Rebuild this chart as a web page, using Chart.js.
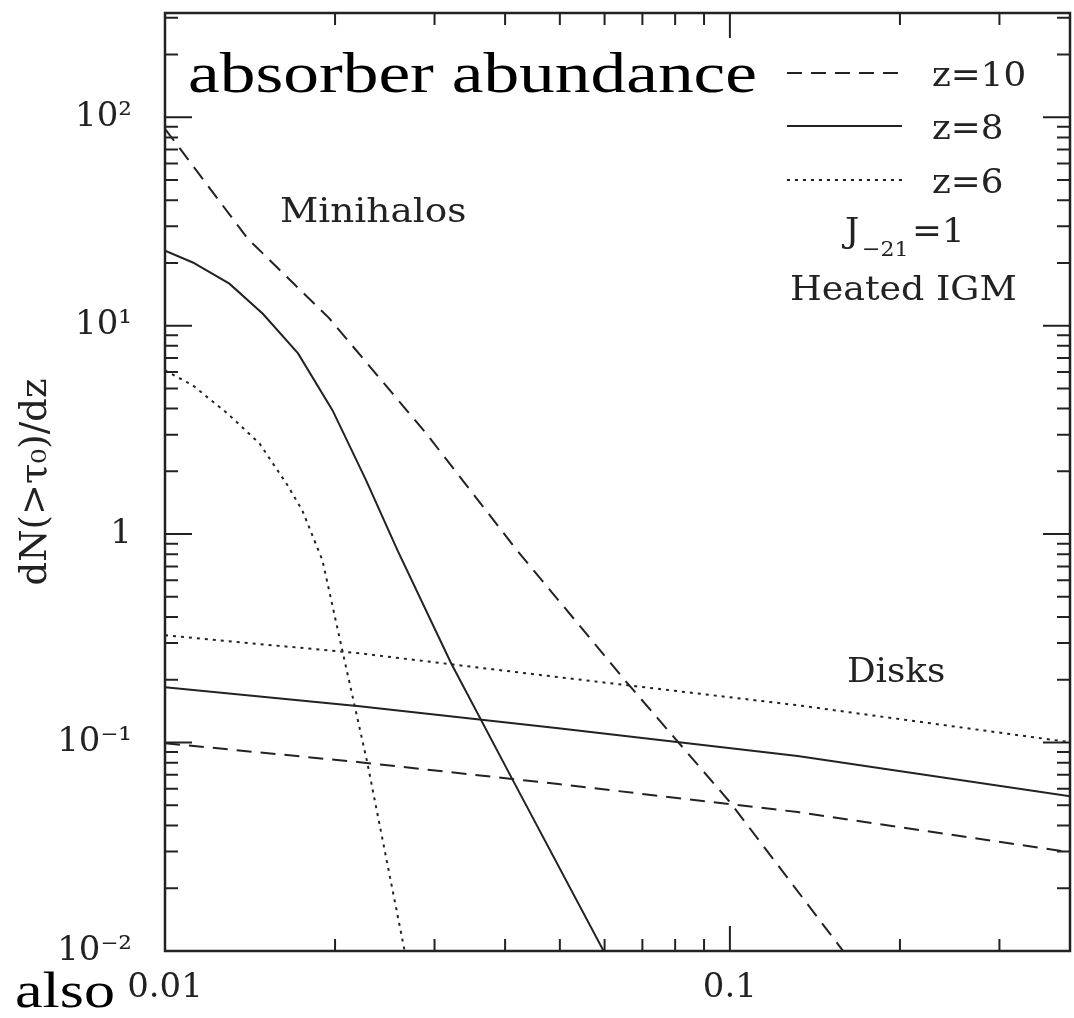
<!DOCTYPE html>
<html>
<head>
<meta charset="utf-8">
<script src="https://cdn.jsdelivr.net/npm/chart.js@4/dist/chart.umd.min.js"></script>
<style>
  html, body { margin: 0; padding: 0; background: #fff; }
  canvas { display: block; }
</style>
</head>
<body>
<canvas id="abundance" width="1074" height="1018"></canvas>
<script>
// Minihalo absorbers: tau_0 thresholds and dN(>tau_0)/dz
const miniTauZ10 = [0.01, 0.0140, 0.0195, 0.0290, 0.0420, 0.0656, 0.1, 0.16];
const miniNZ10   = [88, 26.2, 10.9, 3.04, 0.835, 0.195, 0.0518, 0.0097];
const miniTauZ8  = [0.01, 0.0112, 0.0130, 0.0149, 0.0172, 0.0198, 0.0227, 0.0258, 0.0321, 0.0411, 0.060];
const miniNZ8    = [22.9, 20.1, 15.9, 11.4, 7.36, 3.92, 1.81, 0.836, 0.240, 0.0675, 0.0098];
const miniTauZ6  = [0.01, 0.0112, 0.0129, 0.0147, 0.0164, 0.0175, 0.0190, 0.0206, 0.0228, 0.0266];
const miniNZ6    = [6.10, 5.17, 3.79, 2.72, 1.75, 1.30, 0.748, 0.277, 0.0805, 0.0098];

// Disk absorbers
const diskTau    = [0.01, 0.0221, 0.0497, 0.1318, 0.4];
const diskNZ10   = [0.0993, 0.0805, 0.0632, 0.0464, 0.0298];
const diskNZ8    = [0.1843, 0.1494, 0.1172, 0.0861, 0.0553];
const diskNZ6    = [0.327, 0.268, 0.206, 0.151, 0.1004];

const redshiftLabels = ['z=10', 'z=8', 'z=6'];

// axis ticks
const xMajorTicks = [0.01, 0.1];
const xTickLabels = ['0.01', '0.1'];
const xMinorTicks = [0.02, 0.03, 0.04, 0.05, 0.06, 0.07, 0.08, 0.09, 0.2, 0.3];
const yMajorTicks = [0.01, 0.1, 1, 10, 100];
const yTickLabels = ['10\u207B\u00B2', '10\u207B\u00B9', '1', '10\u00B9', '10\u00B2'];
const yMinorTicks = [0.02, 0.03, 0.04, 0.05, 0.06, 0.07, 0.08, 0.09,
                     0.2, 0.3, 0.4, 0.5, 0.6, 0.7, 0.8, 0.9,
                     2, 3, 4, 5, 6, 7, 8, 9,
                     20, 30, 40, 50, 60, 70, 80, 90,
                     200, 300];

const INK = '#222';
const SERIF = '"DejaVu Serif", serif';
const DASHED = [15, 9];
const DOTTED = [3, 5];

function points(xs, ys) {
  return xs.map((x, i) => ({ x: x, y: ys[i] }));
}

function curve(label, xs, ys, dash) {
  return {
    label: label,
    data: points(xs, ys),
    showLine: true,
    borderColor: INK,
    borderWidth: 2,
    borderDash: dash,
    pointRadius: 0,
    tension: 0,
    fill: false
  };
}

const datasets = [
  curve(redshiftLabels[0], miniTauZ10, miniNZ10, DASHED),
  curve(redshiftLabels[1], miniTauZ8, miniNZ8, []),
  curve(redshiftLabels[2], miniTauZ6, miniNZ6, DOTTED),
  curve(redshiftLabels[0], diskTau, diskNZ10, DASHED),
  curve(redshiftLabels[1], diskTau, diskNZ8, []),
  curve(redshiftLabels[2], diskTau, diskNZ6, DOTTED)
];

function tickList(major, minor) {
  return major.concat(minor).sort((a, b) => a - b).map(v => ({ value: v }));
}

// frame and inward tick marks on all four sides
const frameTicks = {
  id: 'frameTicks',
  afterDatasetsDraw(chart) {
    const { ctx, chartArea: a, scales: { x, y } } = chart;
    ctx.save();
    ctx.strokeStyle = INK;
    ctx.lineWidth = 2;
    ctx.beginPath();
    const xTick = (v, len) => {
      const px = x.getPixelForValue(v);
      ctx.moveTo(px, a.bottom); ctx.lineTo(px, a.bottom - len);
      ctx.moveTo(px, a.top);    ctx.lineTo(px, a.top + len);
    };
    const yTick = (v, len) => {
      const py = y.getPixelForValue(v);
      ctx.moveTo(a.left, py);  ctx.lineTo(a.left + len, py);
      ctx.moveTo(a.right, py); ctx.lineTo(a.right - len, py);
    };
    xMinorTicks.forEach(v => xTick(v, 12));
    xMajorTicks.forEach(v => xTick(v, 25));
    yMinorTicks.forEach(v => yTick(v, 13));
    yMajorTicks.forEach(v => yTick(v, 27));
    ctx.stroke();
    ctx.lineWidth = 2.5;
    ctx.strokeRect(a.left, a.top, a.right - a.left, a.bottom - a.top);
    ctx.restore();
  }
};

function drawText(ctx, text, x, baseline, font, sx) {
  ctx.save();
  ctx.font = font;
  ctx.translate(x, baseline);
  ctx.scale(sx || 1, 1);
  ctx.fillText(text, 0, 0);
  ctx.restore();
}

function drawFitted(ctx, text, x, baseline, font, width) {
  ctx.save();
  ctx.font = font;
  const sx = width / ctx.measureText(text).width;
  ctx.restore();
  drawText(ctx, text, x, baseline, font, sx);
}

// legend samples, annotations and the overlaid captions
const annotations = {
  id: 'annotations',
  afterDraw(chart) {
    const ctx = chart.ctx;
    const font = '34px ' + SERIF;
    ctx.save();
    ctx.fillStyle = INK;
    ctx.textBaseline = 'alphabetic';

    const rows = [73, 126, 180];
    rows.forEach((yy, i) => {
      const ds = chart.data.datasets[i];
      ctx.save();
      ctx.strokeStyle = ds.borderColor;
      ctx.lineWidth = ds.borderWidth;
      ctx.setLineDash(ds.borderDash);
      ctx.beginPath();
      ctx.moveTo(787, yy);
      ctx.lineTo(902, yy);
      ctx.stroke();
      ctx.restore();
      drawText(ctx, ds.label, 932, yy + 13, font, 1.05);
    });

    drawText(ctx, 'J', 845, 242, font, 1.05);
    drawText(ctx, '\u221221', 862, 256, '21px ' + SERIF, 1.05);
    drawText(ctx, '=1', 912, 242, font, 1.05);
    drawText(ctx, 'Heated IGM', 790, 300, font, 1.07);
    drawText(ctx, 'Minihalos', 280, 222, font, 1.1);
    drawText(ctx, 'Disks', 847, 682, font, 1.05);

    ctx.fillStyle = '#000';
    drawFitted(ctx, 'absorber abundance', 188, 92, '56px "Liberation Serif", serif', 569);
    drawFitted(ctx, 'also', 15, 1007, '50px "Liberation Serif", serif', 100);
    ctx.restore();
  }
};

Chart.defaults.color = INK;
Chart.defaults.font.family = SERIF;

new Chart(document.getElementById('abundance'), {
  type: 'scatter',
  data: { datasets: datasets },
  options: {
    responsive: false,
    animation: false,
    layout: { padding: { top: 13, right: 4, left: 0, bottom: 0 } },
    plugins: {
      legend: { display: false },
      tooltip: { enabled: false }
    },
    scales: {
      x: {
        type: 'logarithmic',
        position: 'bottom',
        min: 0.01,
        max: 0.4,
        afterBuildTicks: (scale) => { scale.ticks = tickList(xMajorTicks, xMinorTicks); },
        afterFit: (scale) => {
          scale.height = 67;
          scale.paddingLeft = 0;
          scale.paddingRight = 0;
        },
        grid: { display: false },
        border: { display: false },
        ticks: {
          autoSkip: false,
          maxRotation: 0,
          padding: 9,
          font: { size: 34 },
          callback: (value) => {
            const i = xMajorTicks.indexOf(value);
            return i >= 0 ? xTickLabels[i] : '';
          }
        }
      },
      y: {
        type: 'logarithmic',
        position: 'left',
        min: 0.01,
        max: 316.2,
        afterBuildTicks: (scale) => { scale.ticks = tickList(yMajorTicks, yMinorTicks); },
        afterFit: (scale) => {
          scale.width = 165;
          scale.paddingTop = 0;
          scale.paddingBottom = 0;
        },
        grid: { display: false },
        border: { display: false },
        title: {
          display: true,
          text: 'dN(>\u03C4\u2080)/dz',
          font: { size: 37 },
          padding: { top: 14, bottom: 0 }
        },
        ticks: {
          autoSkip: false,
          padding: 25,
          font: { size: 34 },
          callback: (value) => {
            const i = yMajorTicks.indexOf(value);
            return i >= 0 ? yTickLabels[i] : '';
          }
        }
      }
    }
  },
  plugins: [frameTicks, annotations]
});
</script>
</body>
</html>
